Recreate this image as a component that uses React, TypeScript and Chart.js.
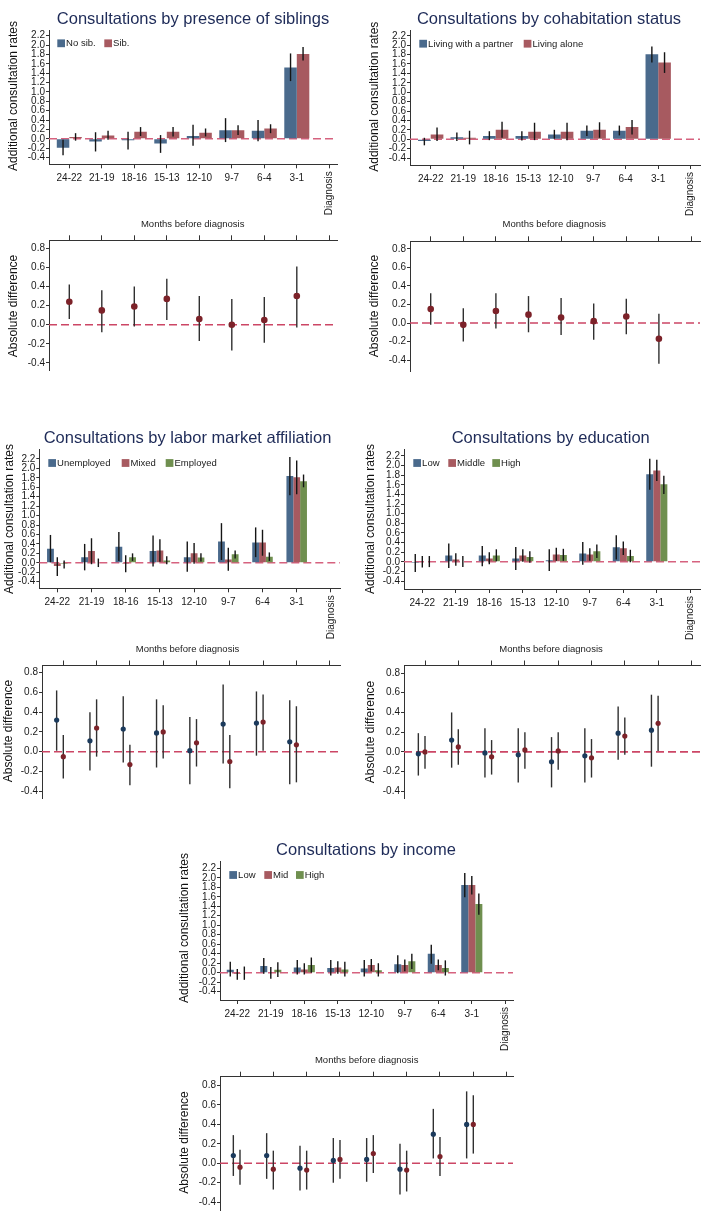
import React, { useEffect, useRef } from 'react';
import { Chart, registerables } from 'chart.js';

Chart.register(...registerables);

const FONT = '"Liberation Sans", Arial, Helvetica, sans-serif';
Chart.defaults.font.family = FONT;

// ---------- categories & ticks ----------
const MONTHS = ['24-22', '21-19', '18-16', '15-13', '12-10', '9-7', '6-4', '3-1', 'Diagnosis'];
const Y_TICKS_TOP = [-0.4, -0.2, 0.0, 0.2, 0.4, 0.6, 0.8, 1.0, 1.2, 1.4, 1.6, 1.8, 2.0, 2.2];
const Y_TICKS_BOTTOM = [-0.4, -0.2, 0.0, 0.2, 0.4, 0.6, 0.8];
const X_TITLE = 'Months before diagnosis';
const Y_TITLE_TOP = 'Additional consultation rates';
const Y_TITLE_BOTTOM = 'Absolute difference';

// ---------- siblings ----------
const SIB_NO = [-0.19, -0.06, -0.03, -0.10, 0.06, 0.18, 0.17, 1.52];
const SIB_NO_LO = [-0.35, -0.27, -0.23, -0.30, -0.15, -0.07, -0.05, 1.23];
const SIB_NO_HI = [-0.02, 0.14, 0.15, 0.08, 0.30, 0.44, 0.40, 1.82];
const SIB_YES = [0.04, 0.07, 0.15, 0.15, 0.13, 0.18, 0.22, 1.81];
const SIB_YES_LO = [-0.04, -0.02, 0.06, 0.05, 0.05, 0.08, 0.12, 1.67];
const SIB_YES_HI = [0.12, 0.17, 0.25, 0.25, 0.22, 0.29, 0.31, 1.96];
const SIB_DIFF = [0.24, 0.15, 0.19, 0.27, 0.06, 0.00, 0.05, 0.30];
const SIB_DIFF_LO = [0.06, -0.08, -0.02, 0.05, -0.17, -0.27, -0.19, -0.03];
const SIB_DIFF_HI = [0.42, 0.36, 0.40, 0.48, 0.30, 0.27, 0.29, 0.61];

// ---------- cohabitation ----------
const COH_PARTNER = [-0.04, 0.04, 0.07, 0.07, 0.10, 0.18, 0.18, 1.81];
const COH_PARTNER_LO = [-0.13, -0.04, -0.02, -0.03, 0.01, 0.07, 0.08, 1.63];
const COH_PARTNER_HI = [0.03, 0.14, 0.17, 0.17, 0.20, 0.29, 0.29, 1.97];
const COH_ALONE = [0.10, 0.03, 0.20, 0.16, 0.16, 0.20, 0.26, 1.63];
const COH_ALONE_LO = [-0.04, -0.11, 0.03, -0.02, -0.02, 0.03, 0.10, 1.41];
const COH_ALONE_HI = [0.25, 0.18, 0.37, 0.35, 0.35, 0.36, 0.41, 1.85];
const COH_DIFF = [0.15, -0.02, 0.13, 0.09, 0.06, 0.02, 0.07, -0.17];
const COH_DIFF_LO = [-0.02, -0.20, -0.06, -0.10, -0.13, -0.18, -0.12, -0.44];
const COH_DIFF_HI = [0.32, 0.16, 0.32, 0.29, 0.27, 0.21, 0.26, 0.10];

// ---------- labor market affiliation ----------
const LAB_UNEMP = [0.30, 0.12, 0.34, 0.25, 0.12, 0.45, 0.43, 1.84];
const LAB_UNEMP_LO = [0.01, -0.16, 0.04, -0.08, -0.19, 0.06, 0.12, 1.43];
const LAB_UNEMP_HI = [0.59, 0.40, 0.65, 0.58, 0.45, 0.84, 0.75, 2.24];
const LAB_MIXED = [-0.07, 0.25, -0.02, 0.26, 0.20, 0.07, 0.43, 1.81];
const LAB_MIXED_LO = [-0.28, -0.03, -0.20, 0.02, -0.02, -0.17, 0.15, 1.45];
const LAB_MIXED_HI = [0.12, 0.52, 0.16, 0.50, 0.42, 0.32, 0.70, 2.17];
const LAB_EMP = [-0.02, 0.00, 0.12, 0.05, 0.11, 0.18, 0.13, 1.73];
const LAB_EMP_LO = [-0.12, -0.09, 0.04, -0.03, 0.03, 0.09, 0.04, 1.60];
const LAB_EMP_HI = [0.05, 0.09, 0.20, 0.14, 0.20, 0.26, 0.22, 1.87];
const LAB_DIFF_A = [0.32, 0.11, 0.23, 0.19, 0.01, 0.28, 0.29, 0.10];
const LAB_DIFF_A_LO = [0.01, -0.19, -0.11, -0.16, -0.33, -0.12, -0.04, -0.33];
const LAB_DIFF_A_HI = [0.62, 0.40, 0.56, 0.53, 0.35, 0.68, 0.61, 0.52];
const LAB_DIFF_B = [-0.05, 0.24, -0.13, 0.20, 0.09, -0.10, 0.30, 0.07];
const LAB_DIFF_B_LO = [-0.27, -0.05, -0.34, -0.07, -0.15, -0.37, 0.01, -0.31];
const LAB_DIFF_B_HI = [0.17, 0.53, 0.07, 0.47, 0.33, 0.17, 0.58, 0.46];

// ---------- education ----------
const EDU_LOW = [-0.02, 0.13, 0.13, 0.07, 0.03, 0.17, 0.30, 1.82];
const EDU_LOW_LO = [-0.21, -0.13, -0.09, -0.17, -0.19, -0.06, 0.05, 1.50];
const EDU_LOW_HI = [0.16, 0.38, 0.33, 0.31, 0.26, 0.41, 0.55, 2.14];
const EDU_MID = [0.00, 0.05, 0.07, 0.13, 0.15, 0.15, 0.28, 1.90];
const EDU_MID_LO = [-0.12, -0.08, -0.05, 0.00, 0.02, 0.02, 0.14, 1.68];
const EDU_MID_HI = [0.12, 0.18, 0.20, 0.26, 0.29, 0.28, 0.42, 2.12];
const EDU_HIGH = [0.00, 0.00, 0.13, 0.10, 0.14, 0.22, 0.12, 1.61];
const EDU_HIGH_LO = [-0.11, -0.11, 0.01, -0.02, 0.02, 0.08, -0.01, 1.41];
const EDU_HIGH_HI = [0.12, 0.12, 0.26, 0.22, 0.27, 0.36, 0.25, 1.79];
const EDU_DIFF_A = [-0.02, 0.12, -0.01, -0.03, -0.10, -0.04, 0.19, 0.22];
const EDU_DIFF_A_LO = [-0.24, -0.16, -0.26, -0.31, -0.36, -0.31, -0.08, -0.15];
const EDU_DIFF_A_HI = [0.19, 0.40, 0.24, 0.24, 0.15, 0.24, 0.46, 0.58];
const EDU_DIFF_B = [0.00, 0.05, -0.05, 0.02, 0.01, -0.06, 0.16, 0.29];
const EDU_DIFF_B_LO = [-0.17, -0.13, -0.23, -0.17, -0.18, -0.26, -0.03, 0.01];
const EDU_DIFF_B_HI = [0.16, 0.23, 0.12, 0.20, 0.20, 0.13, 0.35, 0.57];

// ---------- income ----------
const INC_LOW = [0.06, 0.14, 0.11, 0.10, 0.09, 0.18, 0.40, 1.85];
const INC_LOW_LO = [-0.08, -0.02, -0.04, -0.06, -0.08, -0.01, 0.19, 1.59];
const INC_LOW_HI = [0.23, 0.31, 0.27, 0.27, 0.27, 0.37, 0.59, 2.10];
const INC_MID = [-0.03, 0.00, 0.07, 0.11, 0.16, 0.16, 0.16, 1.85];
const INC_MID_LO = [-0.15, -0.13, -0.04, -0.02, 0.03, 0.03, 0.05, 1.65];
const INC_MID_HI = [0.08, 0.12, 0.20, 0.24, 0.29, 0.28, 0.28, 2.04];
const INC_HIGH = [0.00, 0.06, 0.16, 0.07, 0.05, 0.24, 0.10, 1.45];
const INC_HIGH_LO = [-0.15, -0.09, 0.00, -0.08, -0.08, 0.08, -0.06, 1.22];
const INC_HIGH_HI = [0.13, 0.22, 0.32, 0.23, 0.20, 0.40, 0.26, 1.67];
const INC_DIFF_A = [0.08, 0.08, -0.05, 0.03, 0.04, -0.06, 0.30, 0.40];
const INC_DIFF_A_LO = [-0.13, -0.16, -0.28, -0.20, -0.19, -0.32, 0.05, 0.05];
const INC_DIFF_A_HI = [0.29, 0.31, 0.18, 0.26, 0.26, 0.20, 0.56, 0.74];
const INC_DIFF_B = [-0.04, -0.06, -0.07, 0.04, 0.10, -0.07, 0.07, 0.40];
const INC_DIFF_B_LO = [-0.22, -0.27, -0.27, -0.16, -0.10, -0.29, -0.13, 0.10];
const INC_DIFF_B_HI = [0.14, 0.13, 0.13, 0.24, 0.29, 0.13, 0.27, 0.70];

// ---------- styles ----------
const NAVY_BAR = '#4a6a8c';
const MAROON_BAR = '#a75a60';
const GREEN_BAR = '#6f8f4f';
const NAVY_DOT = '#1b3a5c';
const MAROON_DOT = '#7c2229';
const TITLE_COLOR = '#1e2b58';
const AXIS_COLOR = '#333333';
const TEXT_COLOR = '#1a1a1a';
const ZERO_TOP = '#d6627f';
const ZERO_BOTTOM = '#cc4665';

type Rect = { x: number; y: number; w: number; h: number };
type Plot = { l: number; t: number; r: number; b: number };
type Series = { label: string; values: number[]; lo: number[]; hi: number[]; color: string; offset?: number };
type Spec = {
  kind: 'bar' | 'dot';
  canvas: Rect;
  plot: Plot;
  tick0: number;
  spacing: number;
  zero: number;
  unit: number;
  yTicks: number[];
  series: Series[];
  catPct?: number;
  dotR?: number;
  title?: { text: string; x: number; y: number };
  legend?: { y: number; xs: number[] };
  yTitle: { text: string; x: number; y: number };
  months?: { x: number; y: number };
};

const WY = 28;

function makeDecor(spec: Spec) {
  const ox = spec.canvas.x;
  const oy = spec.canvas.y;
  const drawErrors = (chart: any) => {
    const ctx = chart.ctx;
    const ys = chart.scales.y;
    ctx.save();
    ctx.strokeStyle = spec.kind === 'bar' ? '#151515' : '#303030';
    ctx.lineWidth = 1.4;
    ctx.setLineDash([]);
    spec.series.forEach((s, d) => {
      const meta = chart.getDatasetMeta(d);
      meta.data.forEach((el: any, j: number) => {
        const y1 = ys.getPixelForValue(s.lo[j]);
        const y2 = ys.getPixelForValue(s.hi[j]);
        ctx.beginPath();
        ctx.moveTo(el.x, y1);
        ctx.lineTo(el.x, y2);
        ctx.stroke();
      });
    });
    ctx.restore();
  };
  return {
    id: 'decor',
    beforeDatasetsDraw(chart: any) {
      const { ctx, chartArea } = chart;
      const y0 = chart.scales.y.getPixelForValue(0);
      ctx.save();
      ctx.strokeStyle = spec.kind === 'bar' ? ZERO_TOP : ZERO_BOTTOM;
      ctx.lineWidth = 1.6;
      ctx.setLineDash([8, 4]);
      ctx.beginPath();
      ctx.moveTo(chartArea.left, y0);
      ctx.lineTo(chartArea.right, y0);
      ctx.stroke();
      ctx.restore();
      if (spec.kind === 'dot') drawErrors(chart);
    },
    afterDatasetsDraw(chart: any) {
      if (spec.kind === 'bar') drawErrors(chart);
    },
    afterDraw(chart: any) {
      const ctx = chart.ctx;
      ctx.save();
      if (spec.title) {
        ctx.font = `16.5px ${FONT}`;
        ctx.fillStyle = TITLE_COLOR;
        ctx.textAlign = 'center';
        ctx.textBaseline = 'alphabetic';
        ctx.fillText(spec.title.text, spec.title.x - ox, spec.title.y - oy);
      }
      // y title
      ctx.save();
      ctx.translate(spec.yTitle.x - ox, spec.yTitle.y - oy);
      ctx.rotate(-Math.PI / 2);
      ctx.font = `12px ${FONT}`;
      ctx.fillStyle = '#111';
      ctx.textAlign = 'center';
      ctx.textBaseline = 'middle';
      ctx.fillText(spec.yTitle.text, 0, 0);
      ctx.restore();
      // legend
      if (spec.legend) {
        const ly = spec.legend.y - oy;
        spec.series.forEach((s, i) => {
          const lx = spec.legend!.xs[i] - ox;
          ctx.fillStyle = s.color;
          ctx.fillRect(lx, ly - 3.9, 7.7, 7.8);
          ctx.fillStyle = TEXT_COLOR;
          ctx.font = `9.5px ${FONT}`;
          ctx.textAlign = 'left';
          ctx.textBaseline = 'middle';
          ctx.fillText(s.label, lx + 8.8, ly + 0.5);
        });
      }
      // rotated last category label
      if (spec.kind === 'bar') {
        const xs = chart.scales.x;
        const px = xs.getPixelForValue(MONTHS.length - 1);
        const py = chart.chartArea.bottom + 7;
        ctx.save();
        ctx.translate(px, py);
        ctx.rotate(-Math.PI / 2);
        ctx.font = `10px ${FONT}`;
        ctx.fillStyle = TEXT_COLOR;
        ctx.textAlign = 'right';
        ctx.textBaseline = 'middle';
        ctx.fillText(MONTHS[MONTHS.length - 1], 0, 0);
        ctx.restore();
      }
      if (spec.months) {
        ctx.font = `9.5px ${FONT}`;
        ctx.fillStyle = '#222';
        ctx.textAlign = 'center';
        ctx.textBaseline = 'middle';
        ctx.fillText(X_TITLE, spec.months.x - ox, spec.months.y - oy);
      }
      ctx.restore();
    },
  };
}

function buildConfig(spec: Spec): any {
  const HX = spec.kind === 'bar' ? 22 : 10;
  const xMin = (spec.plot.l - spec.tick0) / spec.spacing;
  const xMax = (spec.plot.r - spec.tick0) / spec.spacing;
  const yMax = (spec.zero - spec.plot.t) / spec.unit;
  const yMin = (spec.zero - spec.plot.b) / spec.unit;
  const padding = {
    left: spec.plot.l - spec.canvas.x - WY,
    right: spec.canvas.x + spec.canvas.w - spec.plot.r,
    top: spec.kind === 'bar' ? spec.plot.t - spec.canvas.y : spec.plot.t - spec.canvas.y - HX,
    bottom: spec.kind === 'bar' ? spec.canvas.y + spec.canvas.h - spec.plot.b - HX : spec.canvas.y + spec.canvas.h - spec.plot.b,
  };

  const datasets =
    spec.kind === 'bar'
      ? spec.series.map((s) => ({
          type: 'bar',
          label: s.label,
          data: s.values.map((v, i) => ({ x: i, y: v })),
          backgroundColor: s.color,
          borderWidth: 0,
          categoryPercentage: spec.catPct,
          barPercentage: 1,
        }))
      : spec.series.map((s) => ({
          type: 'scatter',
          label: s.label,
          data: s.values.map((v, i) => ({ x: i + (s.offset || 0), y: v })),
          backgroundColor: s.color,
          pointBackgroundColor: s.color,
          pointBorderWidth: 0,
          pointRadius: spec.dotR,
          showLine: false,
        }));

  return {
    type: spec.kind === 'bar' ? 'bar' : 'scatter',
    data: { datasets },
    options: {
      animation: false,
      responsive: false,
      events: [],
      layout: { padding },
      plugins: { legend: { display: false }, tooltip: { enabled: false }, title: { display: false } },
      scales: {
        x: {
          type: 'linear',
          position: spec.kind === 'bar' ? 'bottom' : 'top',
          min: xMin,
          max: xMax,
          offset: false,
          afterBuildTicks: (s: any) => {
            s.ticks = MONTHS.map((_, i) => ({ value: i }));
          },
          afterFit: (s: any) => {
            s.height = HX;
          },
          ticks: {
            display: spec.kind === 'bar',
            autoSkip: false,
            maxRotation: 0,
            minRotation: 0,
            padding: 4,
            color: TEXT_COLOR,
            font: { family: FONT, size: 10 },
            callback: (_v: any, i: number) => (i < MONTHS.length - 1 ? MONTHS[i] : ''),
          },
          grid: {
            display: true,
            offset: false,
            drawOnChartArea: false,
            drawTicks: true,
            tickLength: spec.kind === 'bar' ? 4 : 5,
            color: AXIS_COLOR,
            lineWidth: 1,
          },
          border: { display: true, color: AXIS_COLOR, width: 1 },
        },
        y: {
          type: 'linear',
          min: yMin,
          max: yMax,
          afterBuildTicks: (s: any) => {
            s.ticks = spec.yTicks.map((v) => ({ value: v }));
          },
          afterFit: (s: any) => {
            s.width = WY;
          },
          ticks: {
            autoSkip: false,
            padding: 1,
            color: TEXT_COLOR,
            font: { family: FONT, size: 10 },
            callback: (v: any) => Number(v).toFixed(1),
          },
          grid: {
            display: true,
            drawOnChartArea: false,
            drawTicks: true,
            tickLength: 3,
            color: AXIS_COLOR,
            lineWidth: 1,
          },
          border: { display: true, color: AXIS_COLOR, width: 1 },
        },
      },
    },
    plugins: [makeDecor(spec)],
  };
}

const SPECS: Spec[] = [
  // ---- siblings ----
  {
    kind: 'bar',
    canvas: { x: 0, y: 0, w: 354, h: 220 },
    plot: { l: 49, t: 30.7, r: 337, b: 164.3 },
    tick0: 69.3, spacing: 32.5, zero: 138.8, unit: 46.9,
    yTicks: Y_TICKS_TOP, catPct: 0.77,
    series: [
      { label: 'No sib.', values: SIB_NO, lo: SIB_NO_LO, hi: SIB_NO_HI, color: NAVY_BAR },
      { label: 'Sib.', values: SIB_YES, lo: SIB_YES_LO, hi: SIB_YES_HI, color: MAROON_BAR },
    ],
    title: { text: 'Consultations by presence of siblings', x: 193, y: 24 },
    legend: { y: 43.3, xs: [57.3, 104.3] },
    yTitle: { text: Y_TITLE_TOP, x: 13.5, y: 96 },
  },
  {
    kind: 'dot',
    canvas: { x: 0, y: 214, w: 354, h: 170 },
    plot: { l: 49, t: 240.3, r: 337, b: 370 },
    tick0: 69.3, spacing: 32.5, zero: 324.7, unit: 95.5,
    yTicks: Y_TICKS_BOTTOM, dotR: 3.3,
    series: [{ label: 'Difference', values: SIB_DIFF, lo: SIB_DIFF_LO, hi: SIB_DIFF_HI, color: MAROON_DOT, offset: 0 }],
    yTitle: { text: Y_TITLE_BOTTOM, x: 13.5, y: 306 },
    months: { x: 192.7, y: 224 },
  },
  // ---- cohabitation ----
  {
    kind: 'bar',
    canvas: { x: 354, y: 0, w: 353, h: 220 },
    plot: { l: 410, t: 30.7, r: 700, b: 165 },
    tick0: 430.7, spacing: 32.5, zero: 139.2, unit: 47.0,
    yTicks: Y_TICKS_TOP, catPct: 0.78,
    series: [
      { label: 'Living with a partner', values: COH_PARTNER, lo: COH_PARTNER_LO, hi: COH_PARTNER_HI, color: NAVY_BAR },
      { label: 'Living alone', values: COH_ALONE, lo: COH_ALONE_LO, hi: COH_ALONE_HI, color: MAROON_BAR },
    ],
    title: { text: 'Consultations by cohabitation status', x: 549, y: 24 },
    legend: { y: 43.7, xs: [419.3, 523.7] },
    yTitle: { text: Y_TITLE_TOP, x: 374.7, y: 96.7 },
  },
  {
    kind: 'dot',
    canvas: { x: 354, y: 214, w: 353, h: 170 },
    plot: { l: 410, t: 241.3, r: 700, b: 371.7 },
    tick0: 430.7, spacing: 32.6, zero: 323, unit: 92.8,
    yTicks: Y_TICKS_BOTTOM, dotR: 3.3,
    series: [{ label: 'Difference', values: COH_DIFF, lo: COH_DIFF_LO, hi: COH_DIFF_HI, color: MAROON_DOT, offset: 0 }],
    yTitle: { text: Y_TITLE_BOTTOM, x: 374.7, y: 306 },
    months: { x: 554.3, y: 224.3 },
  },
  // ---- labor market ----
  {
    kind: 'bar',
    canvas: { x: 0, y: 410, w: 354, h: 240 },
    plot: { l: 39.3, t: 449.3, r: 340, b: 588.3 },
    tick0: 57.3, spacing: 34.2, zero: 562.8, unit: 47.2,
    yTicks: Y_TICKS_TOP, catPct: 0.6,
    series: [
      { label: 'Unemployed', values: LAB_UNEMP, lo: LAB_UNEMP_LO, hi: LAB_UNEMP_HI, color: NAVY_BAR },
      { label: 'Mixed', values: LAB_MIXED, lo: LAB_MIXED_LO, hi: LAB_MIXED_HI, color: MAROON_BAR },
      { label: 'Employed', values: LAB_EMP, lo: LAB_EMP_LO, hi: LAB_EMP_HI, color: GREEN_BAR },
    ],
    title: { text: 'Consultations by labor market affiliation', x: 187.5, y: 443.3 },
    legend: { y: 463, xs: [48.3, 121.7, 165.7] },
    yTitle: { text: Y_TITLE_TOP, x: 9.5, y: 519 },
  },
  {
    kind: 'dot',
    canvas: { x: 0, y: 636, w: 354, h: 174 },
    plot: { l: 42, t: 665.5, r: 340, b: 798.3 },
    tick0: 63.3, spacing: 33.3, zero: 751.7, unit: 98.8,
    yTicks: Y_TICKS_BOTTOM, dotR: 2.6,
    series: [
      { label: 'A', values: LAB_DIFF_A, lo: LAB_DIFF_A_LO, hi: LAB_DIFF_A_HI, color: NAVY_DOT, offset: -0.2 },
      { label: 'B', values: LAB_DIFF_B, lo: LAB_DIFF_B_LO, hi: LAB_DIFF_B_HI, color: MAROON_DOT, offset: 0 },
    ],
    yTitle: { text: Y_TITLE_BOTTOM, x: 8.5, y: 731 },
    months: { x: 187.5, y: 649 },
  },
  // ---- education ----
  {
    kind: 'bar',
    canvas: { x: 354, y: 410, w: 353, h: 240 },
    plot: { l: 404, t: 449.3, r: 700, b: 589 },
    tick0: 422.3, spacing: 33.5, zero: 561.8, unit: 48.1,
    yTicks: Y_TICKS_TOP, catPct: 0.63,
    series: [
      { label: 'Low', values: EDU_LOW, lo: EDU_LOW_LO, hi: EDU_LOW_HI, color: NAVY_BAR },
      { label: 'Middle', values: EDU_MID, lo: EDU_MID_LO, hi: EDU_MID_HI, color: MAROON_BAR },
      { label: 'High', values: EDU_HIGH, lo: EDU_HIGH_LO, hi: EDU_HIGH_HI, color: GREEN_BAR },
    ],
    title: { text: 'Consultations by education', x: 550.7, y: 443.3 },
    legend: { y: 463, xs: [413.3, 448.3, 492.3] },
    yTitle: { text: Y_TITLE_TOP, x: 370.7, y: 519 },
  },
  {
    kind: 'dot',
    canvas: { x: 354, y: 636, w: 353, h: 174 },
    plot: { l: 404, t: 665.5, r: 700, b: 798 },
    tick0: 425, spacing: 33.3, zero: 751.9, unit: 98.6,
    yTicks: Y_TICKS_BOTTOM, dotR: 2.6,
    series: [
      { label: 'A', values: EDU_DIFF_A, lo: EDU_DIFF_A_LO, hi: EDU_DIFF_A_HI, color: NAVY_DOT, offset: -0.2 },
      { label: 'B', values: EDU_DIFF_B, lo: EDU_DIFF_B_LO, hi: EDU_DIFF_B_HI, color: MAROON_DOT, offset: 0 },
    ],
    yTitle: { text: Y_TITLE_BOTTOM, x: 370.7, y: 732 },
    months: { x: 551, y: 649 },
  },
  // ---- income ----
  {
    kind: 'bar',
    canvas: { x: 160, y: 820, w: 380, h: 240 },
    plot: { l: 220, t: 861.7, r: 513, b: 1000 },
    tick0: 237.3, spacing: 33.5, zero: 972.7, unit: 47.46,
    yTicks: Y_TICKS_TOP, catPct: 0.63,
    series: [
      { label: 'Low', values: INC_LOW, lo: INC_LOW_LO, hi: INC_LOW_HI, color: NAVY_BAR },
      { label: 'Mid', values: INC_MID, lo: INC_MID_LO, hi: INC_MID_HI, color: MAROON_BAR },
      { label: 'High', values: INC_HIGH, lo: INC_HIGH_LO, hi: INC_HIGH_HI, color: GREEN_BAR },
    ],
    title: { text: 'Consultations by income', x: 366, y: 855 },
    legend: { y: 875, xs: [229.3, 264.3, 296] },
    yTitle: { text: Y_TITLE_TOP, x: 185, y: 928 },
  },
  {
    kind: 'dot',
    canvas: { x: 160, y: 1046, w: 380, h: 172 },
    plot: { l: 220, t: 1076.7, r: 513, b: 1210 },
    tick0: 240, spacing: 33.33, zero: 1163.3, unit: 97.2,
    yTicks: Y_TICKS_BOTTOM, dotR: 2.6,
    series: [
      { label: 'A', values: INC_DIFF_A, lo: INC_DIFF_A_LO, hi: INC_DIFF_A_HI, color: NAVY_DOT, offset: -0.2 },
      { label: 'B', values: INC_DIFF_B, lo: INC_DIFF_B_LO, hi: INC_DIFF_B_HI, color: MAROON_DOT, offset: 0 },
    ],
    yTitle: { text: Y_TITLE_BOTTOM, x: 185, y: 1142.5 },
    months: { x: 366.7, y: 1060.7 },
  },
];

function ChartCanvas({ spec }: { spec: Spec }) {
  const ref = useRef<HTMLCanvasElement>(null);
  useEffect(() => {
    if (!ref.current) return;
    const chart = new Chart(ref.current, buildConfig(spec));
    return () => chart.destroy();
  }, [spec]);
  return (
    <canvas
      ref={ref}
      width={spec.canvas.w}
      height={spec.canvas.h}
      style={{
        position: 'absolute',
        left: spec.canvas.x,
        top: spec.canvas.y,
        width: spec.canvas.w,
        height: spec.canvas.h,
      }}
    />
  );
}

export default function App() {
  return (
    <div
      style={{
        position: 'absolute',
        left: 0,
        top: 0,
        width: 707,
        height: 1218,
        overflow: 'hidden',
        background: '#ffffff',
      }}
    >
      {SPECS.map((s, i) => (
        <ChartCanvas key={i} spec={s} />
      ))}
    </div>
  );
}
